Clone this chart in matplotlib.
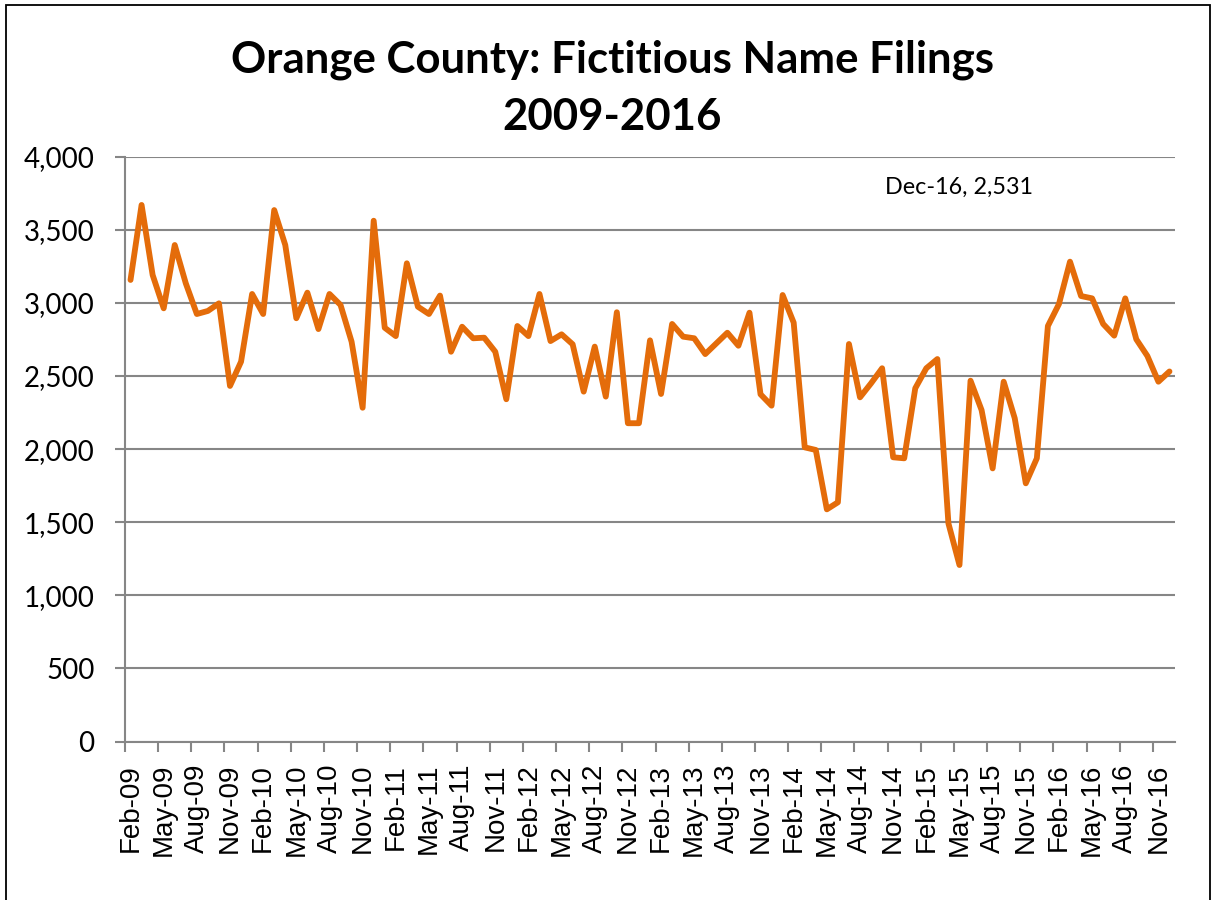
import matplotlib
matplotlib.use("Agg")
import matplotlib.pyplot as plt
from matplotlib.patches import Rectangle
from matplotlib.ticker import FixedLocator, FuncFormatter

# ---- data -------------------------------------------------------------
months_count = 95  # Feb-09 .. Dec-16, monthly categories
filings = [
    3157, 3670, 3191, 2963, 3396, 3134, 2924, 2945, 2997, 2432, 2598, 3061,
    2924, 3635, 3396, 2895, 3070, 2821, 3061, 2986, 2735, 2283, 3562, 2830,
    2773, 3271, 2974, 2924, 3050, 2666, 2837, 2758, 2762, 2666, 2341, 2842,
    2773, 3061, 2739, 2785, 2717, 2393, 2701, 2359, 2936, 2177, 2177, 2744,
    2377, 2856, 2769, 2758, 2650, 2723, 2796, 2707, 2933, 2375, 2297, 3054,
    2865, 2012, 1994, 1588, 1636, 2719, 2354, 2450, 2553, 1944, 1937, 2416,
    2553, 2616, 1492, 1207, 2468, 2267, 1868, 2461, 2211, 1766, 1937, 2842,
    2992, 3282, 3047, 3031, 2856, 2776, 3031, 2751, 2637, 2461, 2531,
]
tick_labels = [
    "Feb-09", "May-09", "Aug-09", "Nov-09", "Feb-10", "May-10", "Aug-10", "Nov-10",
    "Feb-11", "May-11", "Aug-11", "Nov-11", "Feb-12", "May-12", "Aug-12", "Nov-12",
    "Feb-13", "May-13", "Aug-13", "Nov-13", "Feb-14", "May-14", "Aug-14", "Nov-14",
    "Feb-15", "May-15", "Aug-15", "Nov-15", "Feb-16", "May-16", "Aug-16", "Nov-16",
]
last_label = "Dec-16"
y_ticks = [0, 500, 1000, 1500, 2000, 2500, 3000, 3500, 4000]
title_line1 = "Orange County: Fictitious Name Filings"
title_line2 = "2009-2016"

# ---- figure -----------------------------------------------------------
W, H, DPI = 1217, 900, 100
fig = plt.figure(figsize=(W / DPI, H / DPI), dpi=DPI)
fig.patch.set_facecolor("white")

# outer frame
fig.patches.append(Rectangle((6 / W, -0.05), (1210 - 6) / W, (895 / H) + 0.05,
                             transform=fig.transFigure, fill=False,
                             edgecolor="black", linewidth=1.3))

ax_left, ax_right = 125 / W, 1175 / W
ax_bottom, ax_top = (H - 741.5) / H, (H - 156.7) / H
ax = fig.add_axes([ax_left, ax_bottom, ax_right - ax_left, ax_top - ax_bottom])

grid_color = "#868686"
line_color = "#E46C0A"

x = list(range(months_count))
ax.plot(x, filings, color=line_color, linewidth=4.2,
        solid_joinstyle="round", solid_capstyle="round", zorder=3)

ax.set_xlim(-0.5, months_count - 0.5)
ax.set_ylim(0, 4000)

# y axis
ax.set_yticks(y_ticks)
ax.yaxis.set_major_formatter(FuncFormatter(lambda v, p: f"{int(v):,}"))
ax.grid(axis="y", color=grid_color, linewidth=1.5, zorder=1)
ax.tick_params(axis="y", length=7, width=1.5, color=grid_color, pad=15,
               labelsize=20, labelcolor="black")
for lab in ax.get_yticklabels():
    lab.set_fontfamily(["Lato", "DejaVu Sans"])

# x axis: tick marks at category boundaries every 3 months, labels at centers
boundaries = [i - 0.5 for i in range(0, months_count - 1, 3)]
centers = list(range(0, months_count - 1, 3))
ax.xaxis.set_major_locator(FixedLocator(boundaries))
ax.xaxis.set_major_formatter(FuncFormatter(lambda v, p: ""))
ax.xaxis.set_minor_locator(FixedLocator(centers))
ax.set_xticks(centers, tick_labels, minor=True)
ax.tick_params(axis="x", which="major", length=7, width=1.5, color=grid_color)
ax.tick_params(axis="x", which="minor", length=0, pad=16, labelsize=20,
               labelrotation=90, labelcolor="black")
for lab in ax.get_xticklabels(minor=True):
    lab.set_fontfamily(["Liberation Sans", "DejaVu Sans"])
    lab.set_verticalalignment("top")

for side in ["top", "right"]:
    ax.spines[side].set_visible(False)
for side in ["left", "bottom"]:
    ax.spines[side].set_color(grid_color)
    ax.spines[side].set_linewidth(1.5)

# data label for last point
ax.annotate(f"{last_label}, {filings[-1]:,}", xy=(months_count - 1, filings[-1]),
            xytext=(885, H - 187), textcoords="figure pixels",
            ha="left", va="center", fontsize=16.8, family=["Lato", "DejaVu Sans"])

# title (two lines)
fig.text(0.503, (H - 60) / H, title_line1, ha="center", va="center",
         fontsize=31.5, fontweight="bold", family=["Lato", "DejaVu Sans"])
fig.text(0.503, (H - 117) / H, title_line2, ha="center", va="center",
         fontsize=31.5, fontweight="bold", family=["Lato", "DejaVu Sans"])

fig.savefig("out.png", dpi=DPI, facecolor="white")
